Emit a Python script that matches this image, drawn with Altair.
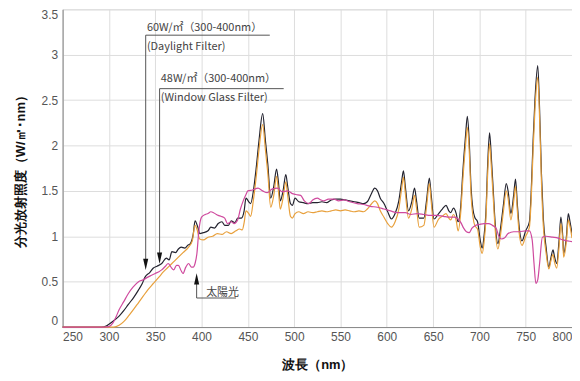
import altair as alt
import pandas as pd

# ---- data ----
black_nm = [250, 280, 292, 297, 300, 305, 311, 316, 321, 327, 332, 336, 339, 344, 348, 352, 357, 362, 365, 368,
            372, 375, 378, 382, 385, 388, 391, 393, 396, 398, 402, 407, 410, 414, 418, 422, 425, 429, 432, 436,
            439, 443, 446, 448, 451, 453, 456, 459, 462, 466, 469, 471.5, 474.7, 478, 481, 483, 485, 488, 491, 493,
            496, 498, 501, 505, 510, 515, 520, 525, 530, 535, 540, 545, 550, 555, 560, 565, 570, 575, 579, 583,
            587, 590, 593, 597, 601, 605, 609, 613, 616, 618, 620, 623.5, 627, 630, 632, 635, 640, 643, 646, 648,
            651, 656, 660, 664, 667, 669, 672, 675, 677, 680, 682, 685, 687, 689, 691, 693, 695, 698, 701, 703,
            705, 707, 709, 711, 713, 715, 717, 720, 723, 726, 729, 731, 734, 737, 739, 741, 743, 746, 750, 754,
            756, 758, 760, 763, 765, 767, 769, 772, 775, 777, 779.5, 781, 783.5, 786, 788, 790, 791, 794, 796, 798, 800]
black_val = [0, 0, 0.0, 0.01, 0.03, 0.07, 0.12, 0.18, 0.25, 0.33, 0.41, 0.48, 0.55, 0.6, 0.65, 0.67, 0.70, 0.76, 0.74, 0.83,
             0.82, 0.86, 0.88, 0.87, 0.90, 0.92, 1.02, 1.17, 1.10, 1.03, 1.04, 1.06, 1.10, 1.09, 1.14, 1.16, 1.12, 1.12, 1.17, 1.15,
             1.20, 1.20, 1.28, 1.42, 1.38, 1.36, 1.50, 1.75, 2.05, 2.35, 2.05, 1.80, 1.42, 1.55, 1.74, 1.60, 1.39, 1.50, 1.68, 1.55,
             1.36, 1.34, 1.42, 1.38, 1.37, 1.36, 1.37, 1.37, 1.38, 1.37, 1.40, 1.41, 1.41, 1.40, 1.39, 1.38, 1.37, 1.36, 1.38, 1.46,
             1.53, 1.50, 1.42, 1.36, 1.27, 1.19, 1.25, 1.39, 1.60, 1.72, 1.55, 1.28, 1.38, 1.53, 1.40, 1.20, 1.20, 1.40, 1.64, 1.45,
             1.19, 1.25, 1.30, 1.34, 1.28, 1.26, 1.31, 1.25, 1.16, 1.35, 1.69, 2.10, 2.32, 2.05, 1.54, 1.30, 1.21, 1.16, 0.95, 0.87,
             1.00, 1.25, 1.80, 2.14, 1.85, 1.50, 1.15, 0.92, 1.10, 1.35, 1.58, 1.50, 1.25, 1.45, 1.63, 1.35, 1.10, 0.95, 1.06, 1.16,
             1.50, 2.05, 2.50, 2.88, 2.40, 1.69, 1.20, 0.88, 0.66, 0.75, 0.85, 0.78, 0.70, 0.95, 1.21, 1.00, 0.81, 1.00, 1.25, 1.15, 1.03]

orange_nm = [250, 300, 305, 311, 316, 321, 327, 332, 337, 342, 348, 354, 359, 364, 370, 375, 380, 386, 390, 393,
             395, 398, 402, 407, 412, 417, 422, 427, 432, 437, 441, 444, 446, 448, 451, 453, 456, 459, 462, 466,
             469, 471.5, 474.7, 478, 481, 483, 485, 488, 491, 493, 496, 498, 501, 505, 510, 515, 520, 525, 530, 535,
             540, 545, 550, 555, 560, 565, 570, 575, 579, 583, 587, 590, 593, 597, 601, 605, 609, 613, 616, 618,
             620, 623.5, 627, 630, 632, 635, 640, 643, 646, 648, 651, 656, 660, 664, 667, 669, 672, 675, 677, 680,
             682, 685, 687, 689, 691, 693, 695, 698, 701, 703, 705, 707, 709, 711, 713, 715, 717, 720, 723, 726,
             729, 731, 734, 737, 739, 741, 743, 746, 750, 754, 756, 758, 760, 763, 765, 767, 769, 772, 775, 777,
             779.5, 781, 783.5, 786, 788, 790, 791, 794, 796, 798, 800]
orange_val = [0, 0, 0, 0.02, 0.06, 0.12, 0.2, 0.27, 0.34, 0.41, 0.48, 0.55, 0.61, 0.66, 0.72, 0.77, 0.82, 0.88, 0.95, 1.12,
              1.08, 0.97, 0.96, 0.99, 1.00, 1.03, 1.02, 1.05, 1.03, 1.06, 1.08, 1.07, 1.15, 1.28, 1.25, 1.22, 1.40, 1.65, 1.95, 2.23,
              1.95, 1.70, 1.32, 1.45, 1.66, 1.50, 1.30, 1.42, 1.60, 1.45, 1.22, 1.20, 1.25, 1.27, 1.25, 1.27, 1.26, 1.27, 1.28, 1.27,
              1.28, 1.29, 1.28, 1.29, 1.28, 1.27, 1.28, 1.27, 1.30, 1.35, 1.39, 1.36, 1.28, 1.21, 1.14, 1.10, 1.16, 1.30, 1.52, 1.65,
              1.48, 1.20, 1.30, 1.45, 1.32, 1.10, 1.12, 1.33, 1.58, 1.38, 1.10, 1.19, 1.22, 1.25, 1.20, 1.18, 1.24, 1.17, 1.06, 1.28,
              1.60, 2.00, 2.20, 1.95, 1.45, 1.22, 1.12, 1.08, 0.88, 0.81, 0.93, 1.18, 1.70, 2.02, 1.75, 1.42, 1.08, 0.86, 1.03, 1.28,
              1.50, 1.42, 1.18, 1.38, 1.55, 1.28, 1.03, 0.90, 1.00, 1.10, 1.42, 1.95, 2.40, 2.75, 2.30, 1.60, 1.12, 0.82, 0.64, 0.72,
              0.80, 0.72, 0.65, 0.88, 1.14, 0.95, 0.77, 0.95, 1.18, 1.10, 0.98]

sun_nm = [250, 295, 300, 304, 308, 311, 316, 321, 326, 332, 337, 342, 346, 350, 354, 357, 361, 364, 367, 370,
          373, 375, 378, 380, 383, 386, 389, 391, 393, 395, 397, 400, 404, 407, 410, 413, 416, 418, 421, 425,
          428, 432, 435, 439, 442, 445, 448, 450, 455, 461, 466, 471, 476, 482, 487, 493, 498, 502, 507, 511,
          516, 520, 525, 529, 532, 537, 543, 548, 554, 560, 568, 575, 582, 590, 597, 604, 611, 620, 626, 633,
          640, 647, 654, 661, 668, 673, 677, 680, 683, 686, 689, 692, 696, 700, 705, 710, 714, 718, 721, 724,
          727, 731, 737, 743, 750, 754, 757, 759, 761, 763, 765, 768, 772, 779, 785, 790, 795, 800]
sun_val = [0, 0, 0.005, 0.04, 0.12, 0.19, 0.28, 0.37, 0.44, 0.50, 0.52, 0.55, 0.57, 0.59, 0.61, 0.63, 0.67, 0.70, 0.66, 0.63,
           0.68, 0.68, 0.62, 0.59, 0.66, 0.70, 0.66, 0.66, 0.70, 0.81, 1.05, 1.21, 1.24, 1.25, 1.27, 1.26, 1.24, 1.23, 1.22, 1.20,
           1.14, 1.16, 1.14, 1.18, 1.30, 1.39, 1.46, 1.50, 1.51, 1.53, 1.50, 1.48, 1.52, 1.53, 1.49, 1.50, 1.47, 1.46, 1.45, 1.39,
           1.36, 1.40, 1.42, 1.40, 1.39, 1.41, 1.41, 1.39, 1.40, 1.38, 1.36, 1.35, 1.33, 1.32, 1.30, 1.28, 1.26, 1.26, 1.24, 1.25,
           1.24, 1.23, 1.23, 1.22, 1.21, 1.21, 1.19, 1.15, 1.09, 1.05, 1.04, 1.09, 1.12, 1.13, 1.14, 1.14, 1.12, 1.09, 1.00, 0.97,
           0.98, 1.03, 1.05, 1.05, 1.06, 1.06, 0.96, 0.70, 0.48, 0.52, 0.70, 0.99, 1.00, 0.99, 0.98, 0.96, 0.95, 0.94]

x_ticks = [250, 300, 350, 400, 450, 500, 550, 600, 650, 700, 750, 800]
y_ticks = [0, 0.5, 1, 1.5, 2, 2.5, 3, 3.5]

# annotations (data coordinates)
ann_text = ["60W/㎡（300-400nm）", "(Daylight Filter)", "48W/㎡（300-400nm）", "(Window Glass Filter)", "太陽光"]
ann_text_x = [341, 341, 356, 356, 405]
ann_text_y = [3.29, 3.08, 2.73, 2.52, 0.375]

hline_x = [339.7, 354.7, 394.7]
hline_x2 = [473.7, 488.7, 437.2]
hline_y = [3.215, 2.626, 0.32]

vline_x = [339.7, 354.7, 394.7]
vline_y = [3.215, 2.626, 0.52]
vline_y2 = [0.72, 0.78, 0.32]

arrow_x = [339.7, 354.7, 394.7]
arrow_y = [0.69, 0.76, 0.53]
arrow_dir = ["down", "down", "up"]

FONT = "Noto Sans CJK JP"

xscale = alt.Scale(domain=[250, 800], nice=False, zero=False)
yscale = alt.Scale(domain=[0, 3.5], nice=False)

xaxis = alt.Axis(values=x_ticks, title="波長（nm）", labelFlush=True, ticks=False, grid=True,
                 labelColor="#555", labelFontSize=12, labelPadding=5,
                 titleFontSize=13, titleFontWeight="bold", titleColor="#111", titlePadding=16)
yaxis = alt.Axis(values=y_ticks, format="~g", title="分光放射照度（W/㎡･nm）", labelFlush=True, ticks=False,
                 grid=True, labelColor="#555", labelFontSize=12, labelPadding=5,
                 titleFontSize=13, titleFontWeight="bold", titleColor="#111", titlePadding=14)


def line(nm, vals, color):
    df = pd.DataFrame({"nm": nm, "v": vals})
    return alt.Chart(df).mark_line(color=color, strokeWidth=1.2, interpolate="monotone").encode(
        x=alt.X("nm:Q", scale=xscale, axis=xaxis),
        y=alt.Y("v:Q", scale=yscale, axis=yaxis),
    )


black = line(black_nm, black_val, "#23232f")
orange = line(orange_nm, orange_val, "#e8a03c")
sun = line(sun_nm, sun_val, "#cf4a9e")

txt_df = pd.DataFrame({"x": ann_text_x, "y": ann_text_y, "t": ann_text})
texts = alt.Chart(txt_df).mark_text(align="left", baseline="middle", font=FONT, fontSize=11, color="#444").encode(
    x=alt.X("x:Q", scale=xscale), y=alt.Y("y:Q", scale=yscale), text="t:N")

h_df = pd.DataFrame({"x": hline_x, "x2": hline_x2, "y": hline_y})
hlines = alt.Chart(h_df).mark_rule(color="#555", strokeWidth=1).encode(
    x=alt.X("x:Q", scale=xscale), x2="x2:Q", y=alt.Y("y:Q", scale=yscale))

v_df = pd.DataFrame({"x": vline_x, "y": vline_y, "y2": vline_y2})
vlines = alt.Chart(v_df).mark_rule(color="#555", strokeWidth=1).encode(
    x=alt.X("x:Q", scale=xscale), y=alt.Y("y:Q", scale=yscale), y2="y2:Q")

a_df = pd.DataFrame({"x": arrow_x, "y": arrow_y, "d": arrow_dir})
arrows = alt.Chart(a_df).mark_point(filled=True, opacity=1, size=130, color="#111").encode(
    x=alt.X("x:Q", scale=xscale), y=alt.Y("y:Q", scale=yscale),
    shape=alt.Shape("d:N", scale=alt.Scale(domain=["down", "up"],
                                           range=["M -0.45 -1 L 0.45 -1 L 0 1 Z", "M -0.45 1 L 0.45 1 L 0 -1 Z"]),
                    legend=None))

chart = alt.layer(black, orange, sun, hlines, vlines, arrows, texts).properties(
    width=513, height=320,
    autosize=alt.AutoSizeParams(type="none"),
    padding={"left": 55, "top": 0, "right": 0, "bottom": 52},
).configure_view(stroke="#bbb", strokeWidth=1).configure_axis(
    gridColor="#e2e2e2", gridWidth=1, domainColor="#999", labelFont=FONT, titleFont=FONT
).configure(background="white")

chart.save("out.html", embed_options={"renderer": "svg", "actions": False})
